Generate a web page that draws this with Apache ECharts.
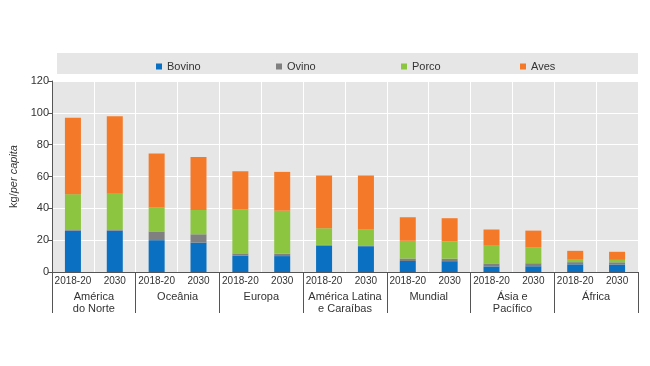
<!DOCTYPE html>
<html>
<head>
<meta charset="utf-8">
<script src="https://cdn.jsdelivr.net/npm/echarts@6/dist/echarts.min.js"></script>
<style>html,body{margin:0;padding:0;background:#fff;}#c{width:650px;height:366px;}</style>
</head>
<body>
<div id="c"></div>
<script>
var periods = ['2018-20','2030','2018-20','2030','2018-20','2030','2018-20','2030','2018-20','2030','2018-20','2030','2018-20','2030'];
var groups = ['América\ndo Norte','Oceânia','Europa','América Latina\ne Caraíbas','Mundial','Ásia e\nPacífico','África'];
var bovino = [26, 26, 20, 18.5, 10.2, 10, 16.5, 16.2, 6.9, 6.8, 3.5, 3.6, 4.8, 4.7];
var ovino  = [0.4, 0.4, 5.5, 5.2, 1.5, 1.5, 0.5, 0.5, 1.6, 1.6, 1.9, 1.9, 1.4, 1.4];
var porco  = [22.5, 22.8, 15.1, 15.3, 27.5, 27, 10.5, 10.2, 11.1, 10.8, 11.1, 10.1, 1.5, 1.5];
var aves   = [48, 48.6, 33.8, 33.3, 24.1, 24.4, 33.1, 33.7, 14.8, 14.6, 10.2, 10.4, 5.6, 5.1];
var yTicks = [0, 20, 40, 60, 80, 100, 120];

var FONT = '"Liberation Sans", Arial, sans-serif';
var colors = {Bovino:'#0a70c1', Ovino:'#808080', Porco:'#8cc540', Aves:'#f47a2a'};
function mk(name, data){
  return {name:name, type:'bar', stack:'t', data:data, barWidth:16, xAxisIndex:0,
    itemStyle:{color:colors[name]}, emphasis:{disabled:true}};
}
function lg(name, left){
  return {data:[name], left:left, top:56, itemWidth:6, itemHeight:6, icon:'rect',
    textStyle:{fontFamily:FONT, fontSize:11, color:'#333', padding:[5,0,0,0]}, itemGap:5, selectedMode:false};
}
var chart = echarts.init(document.getElementById('c'), null, {renderer:'canvas'});
chart.setOption({
  animation:false,
  graphic:[{type:'rect', shape:{x:57, y:53, width:581, height:21}, style:{fill:'#e6e6e6'}, z:-1}],
  legend:[lg('Bovino',151), lg('Ovino',271), lg('Porco',396), lg('Aves',515)],
  grid:{left:51, right:12, top:81, bottom:94, show:true, backgroundColor:'#e6e6e6', borderWidth:0},
  xAxis:[{
    type:'category', data:periods, position:'bottom',
    axisLine:{lineStyle:{color:'#555', width:1}},
    axisTick:{interval:0, length:12, lineStyle:{color:'#555'}},
    axisLabel:{interval:0, margin:4, fontFamily:'"Liberation Sans Narrow", "Liberation Sans", sans-serif', fontSize:10, color:'#333'},
    splitLine:{show:true, interval:0, lineStyle:{color:'#ffffff', width:1}}
  },{
    type:'category', data:groups, position:'bottom', offset:0,
    axisLine:{show:false},
    axisTick:{show:true, interval:0, length:41, lineStyle:{color:'#555'}},
    axisLabel:{interval:0, margin:19, verticalAlign:'top', lineHeight:12, fontFamily:FONT, fontSize:11, color:'#333'},
    splitLine:{show:false}
  }],
  yAxis:{
    type:'value', min:yTicks[0], max:yTicks[yTicks.length-1], interval:20,
    axisLine:{show:true, lineStyle:{color:'#555'}},
    axisTick:{show:true, length:4, lineStyle:{color:'#555'}},
    axisLabel:{fontFamily:FONT, fontSize:11, color:'#333', margin:3},
    splitLine:{lineStyle:{color:'#ffffff', width:1}},
    name:'{a|kg/}{b|per capita}', nameLocation:'middle', nameRotate:90, nameGap:33,
    nameTextStyle:{rich:{a:{fontFamily:FONT, fontSize:11, color:'#333'}, b:{fontFamily:FONT, fontSize:11, fontStyle:'italic', color:'#333'}}}
  },
  series:[mk('Bovino', bovino), mk('Ovino', ovino), mk('Porco', porco), mk('Aves', aves)]
});
</script>
</body>
</html>
